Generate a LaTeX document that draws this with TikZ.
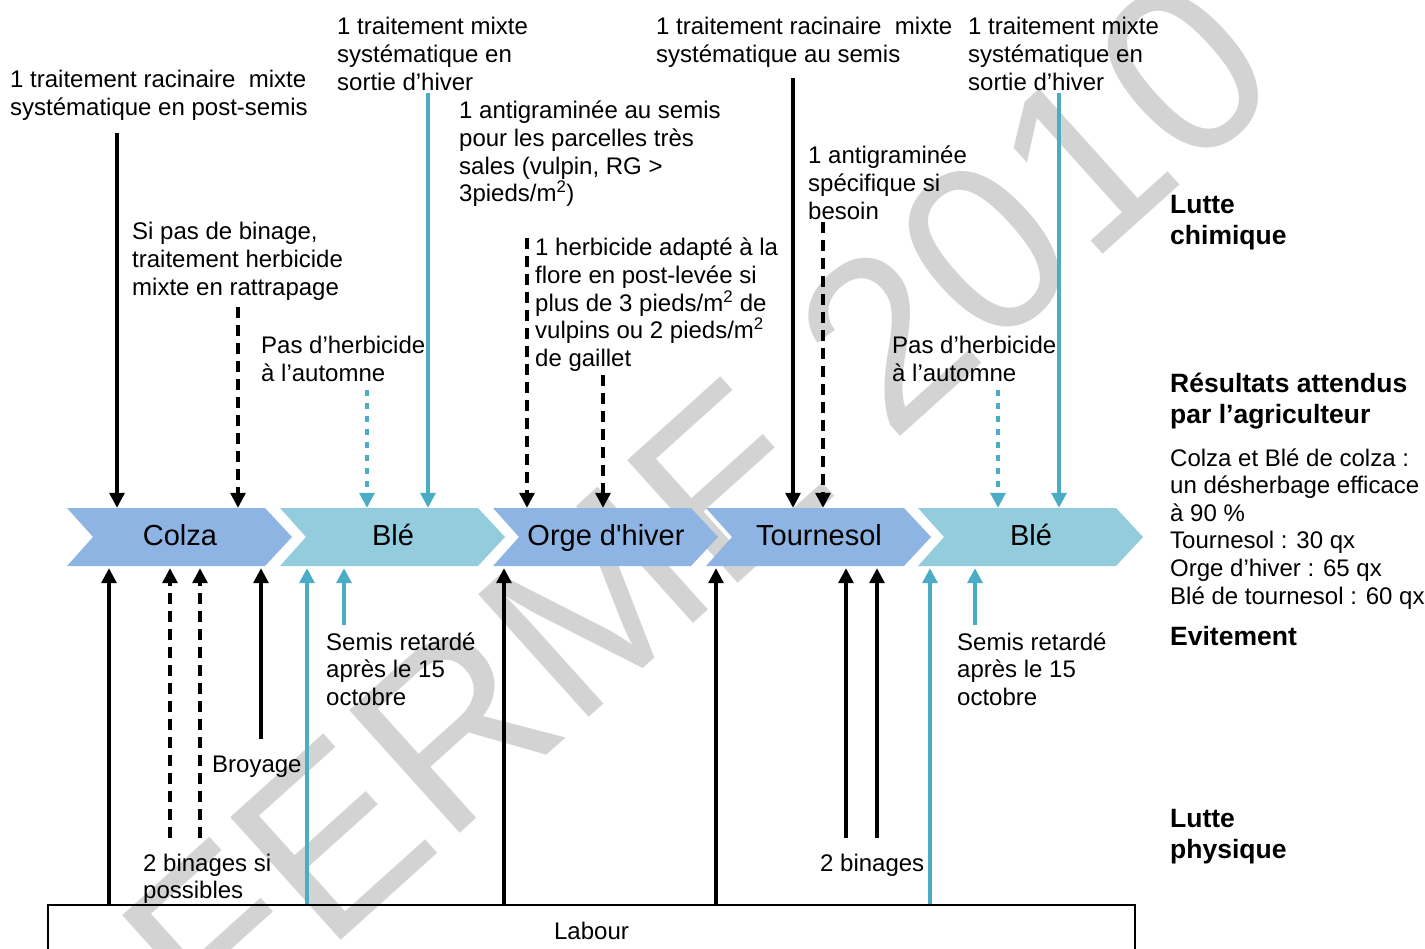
\documentclass[tikz,border=0pt]{standalone}
\usepackage{fontspec}
\setmainfont{Liberation Sans}
\usetikzlibrary{positioning}
\usetikzlibrary{arrows.meta}
\definecolor{colzablue}{RGB}{142,180,227}
\definecolor{bleblue}{RGB}{147,205,221}
\definecolor{lineblue}{RGB}{75,172,198}
\definecolor{wmgray}{RGB}{211,211,211}
\newcommand{\txtsize}{\fontsize{24}{27.6}\selectfont}
\newcommand{\titsize}{\fontsize{26.5}{31}\selectfont\bfseries}

\begin{document}
\begin{tikzpicture}[x=1pt,y=-1pt,
        txt/.style={anchor=base west,align=left,inner sep=0pt,font=\txtsize},
        tit/.style={anchor=base west,align=left,inner sep=0pt,font=\titsize},
        chev/.style={inner sep=0pt,minimum width=225pt,minimum height=58pt,text height=21pt,text depth=4pt,font=\fontsize{29}{30}\selectfont},
        arrsolid/.style={line width=3.2pt,-{Triangle[length=15pt 0,width=15pt 0]}},
        arrdash/.style={arrsolid,dash pattern=on 11pt off 7pt},
        arrblue/.style={arrsolid,line width=3.4pt,color=lineblue},
        arrdot/.style={arrblue,dash pattern=on 6pt off 7pt},
        arrup/.style={shorten >=2pt}]
            \useasboundingbox (0,0) rectangle (1425,949) ;
            \clip (0,0) rectangle (1425,949) ;
            % watermark
            \node[rotate=42,text=wmgray,inner sep=0pt,font=\fontsize{240}{240}\selectfont] (nWater) at (698,508) {FERME 2010};
            % crop chevrons
            \foreach \nm/\xx/\col/\lab in {nColza/67/colzablue/Colza,nBleA/280/bleblue/Blé,nOrge/493/colzablue/Orge d\textquotesingle hiver,nTourn/706/colzablue/Tournesol,nBleB/918/bleblue/Blé}{
                \fill[\col] (\xx,508) -- ++(198,0) -- ++(27,29) -- ++(-27,29) -- ++(-198,0) -- ++(26,-29) -- cycle ;
                \node[chev] (\nm) at (\xx+113,537) {\lab} ;
            }
            % Labour box
            \node[draw,line width=2pt,inner sep=0pt,minimum width=1087pt,minimum height=52pt,font=\txtsize] (nLabour) at (591.5,931) {Labour} ;
            % chemical control, top labels (anchored on their last line)
            \node[txt] (tRacPost) at (10,115.6)  {1 traitement racinaire\ \ mixte\\systématique en post-semis} ;
            \node[txt] (tRattr)   at (132,295.2) {Si pas de binage,\\traitement herbicide\\mixte en rattrapage} ;
            \node[txt] (tPasA)    at (261,381.6) {Pas d’herbicide\\à l’automne} ;
            \node[txt] (tSortA)   at (337,90.2)  {1 traitement mixte\\systématique en\\sortie d’hiver} ;
            \node[txt] (tAntiA)   at (459,201.8) {1 antigraminée au semis\\pour les parcelles très\\sales (vulpin, RG >\\3pieds/m\textsuperscript{2})} ;
            \node[txt] (tHerb)    at (535,366.4) {1 herbicide adapté à la\\flore en post-levée si\\plus de 3 pieds/m\textsuperscript{2} de\\vulpins ou 2 pieds/m\textsuperscript{2}\\de gaillet} ;
            \node[txt] (tRacSem)  at (656,62.6)  {1 traitement racinaire\ \ mixte\\systématique au semis} ;
            \node[txt] (tAntiB)   at (808,219.2) {1 antigraminée\\spécifique si\\besoin} ;
            \node[txt] (tPasB)    at (892,381.6) {Pas d’herbicide\\à l’automne} ;
            \node[txt] (tSortB)   at (968,90.2)  {1 traitement mixte\\systématique en\\sortie d’hiver} ;
            % physical control, bottom labels
            \node[txt] (tSemA)    at (326,705.2) {Semis retardé\\après le 15\\octobre} ;
            \node[txt] (tBroy)    at (212,772)   {Broyage} ;
            \node[txt] (tBinA)    at (143,898.6) {2 binages si\\possibles} ;
            \node[txt] (tBinB)    at (820,871)   {2 binages} ;
            \node[txt] (tSemB)    at (957,705.2) {Semis retardé\\après le 15\\octobre} ;
            % right column
            \node[tit] (tChim)    at (1170,244.5) {Lutte\\chimique} ;
            \node[tit] (tRes)     at (1170,423.5) {Résultats attendus\\par l’agriculteur} ;
            \node[txt] (tResTxt)  at (1170,604)   {Colza et Blé de colza :\\un désherbage efficace\\à 90 \%\\Tournesol : 30 qx\\Orge d’hiver : 65 qx\\Blé de tournesol : 60 qx} ;
            \node[tit] (tEvit)    at (1170,645.5) {Evitement} ;
            \node[tit] (tPhys)    at (1170,858)   {Lutte\\physique} ;
            % arrow starts above the chevrons
            \coordinate (cTa) at (117,133) ;
            \coordinate (cTb) at (238,307) ;
            \coordinate (cTc) at (367,390) ;
            \coordinate (cTd) at (428,93) ;
            \coordinate (cTe) at (527,238) ;
            \coordinate (cTf) at (603,375) ;
            \coordinate (cTg) at (793,78) ;
            \coordinate (cTh) at (823,222) ;
            \coordinate (cTi) at (998,390) ;
            \coordinate (cTj) at (1059,93) ;
            \draw[arrsolid] (cTa) -- (cTa |- nColza.north) ;
            \draw[arrdash]  (cTb) -- (cTb |- nColza.north) ;
            \draw[arrdot]   (cTc) -- (cTc |- nBleA.north) ;
            \draw[arrblue]  (cTd) -- (cTd |- nBleA.north) ;
            \draw[arrdash]  (cTe) -- (cTe |- nOrge.north) ;
            \draw[arrdash]  (cTf) -- (cTf |- nOrge.north) ;
            \draw[arrsolid] (cTg) -- (cTg |- nTourn.north) ;
            \draw[arrdash]  (cTh) -- (cTh |- nTourn.north) ;
            \draw[arrdot]   (cTi) -- (cTi |- nBleB.north) ;
            \draw[arrblue]  (cTj) -- (cTj |- nBleB.north) ;
            % arrow starts below the chevrons
            \coordinate (cBa) at (109,905) ;
            \coordinate (cBb) at (170,838) ;
            \coordinate (cBc) at (200,838) ;
            \coordinate (cBd) at (261,739) ;
            \coordinate (cBe) at (307,905) ;
            \coordinate (cBf) at (344,625) ;
            \coordinate (cBg) at (504,905) ;
            \coordinate (cBh) at (716,905) ;
            \coordinate (cBi) at (846,838) ;
            \coordinate (cBj) at (877,838) ;
            \coordinate (cBk) at (930,905) ;
            \coordinate (cBl) at (975,625) ;
            \draw[arrsolid,arrup] (cBa |- nLabour.north) -- (cBa |- nColza.south) ;
            \draw[arrdash,arrup]  (cBb) -- (cBb |- nColza.south) ;
            \draw[arrdash,arrup]  (cBc) -- (cBc |- nColza.south) ;
            \draw[arrsolid,arrup] (cBd) -- (cBd |- nColza.south) ;
            \draw[arrblue,arrup]  (cBe |- nLabour.north) -- (cBe |- nBleA.south) ;
            \draw[arrblue,arrup]  (cBf) -- (cBf |- nBleA.south) ;
            \draw[arrsolid,arrup] (cBg |- nLabour.north) -- (cBg |- nOrge.south) ;
            \draw[arrsolid,arrup] (cBh |- nLabour.north) -- (cBh |- nTourn.south) ;
            \draw[arrsolid,arrup] (cBi) -- (cBi |- nTourn.south) ;
            \draw[arrsolid,arrup] (cBj) -- (cBj |- nTourn.south) ;
            \draw[arrblue,arrup]  (cBk |- nLabour.north) -- (cBk |- nBleB.south) ;
            \draw[arrblue,arrup]  (cBl) -- (cBl |- nBleB.south) ;
        \end{tikzpicture}
\end{document}
